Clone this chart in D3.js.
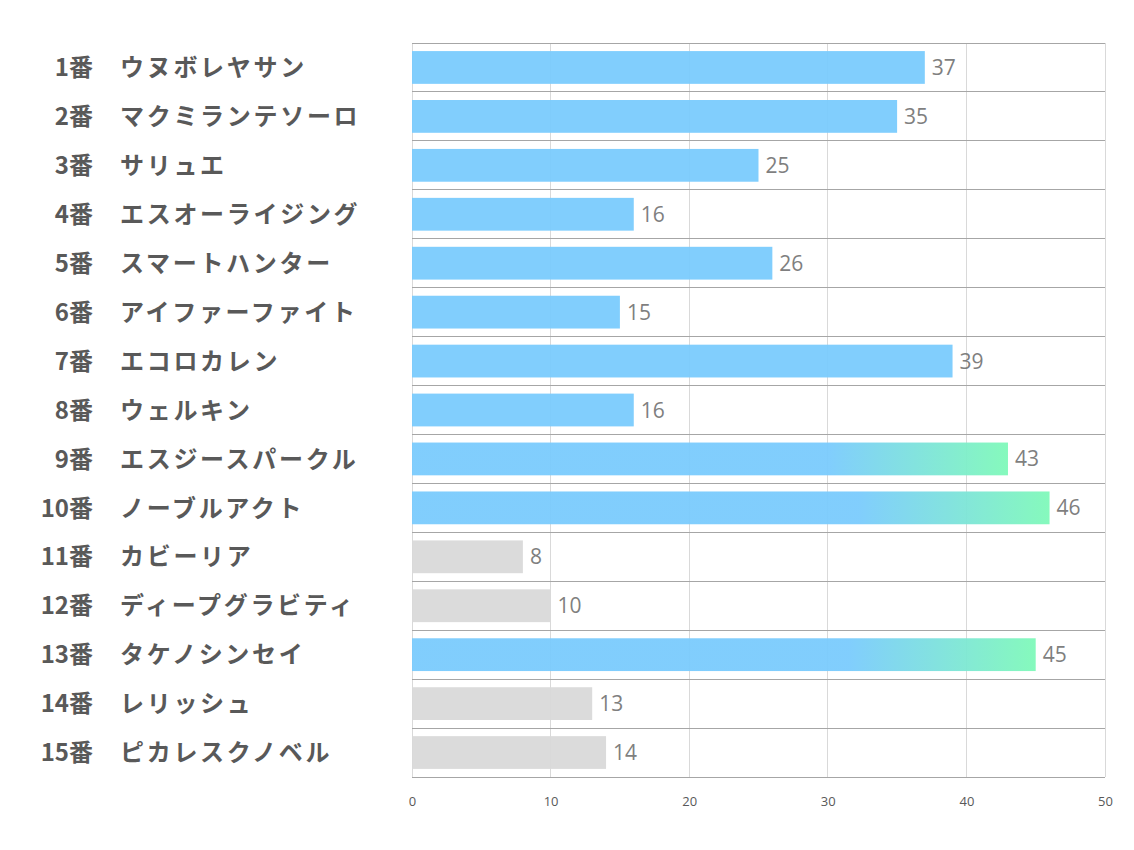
<!DOCTYPE html>
<html><head><meta charset="utf-8">
<script src="https://cdn.jsdelivr.net/npm/d3@7/dist/d3.min.js"></script>
<style>body{margin:0;background:#fff;} svg{display:block;}</style>
</head><body>
<svg id="chart" width="1134" height="850"></svg>
<script>
const numbers = ["1番","2番","3番","4番","5番","6番","7番","8番","9番","10番","11番","12番","13番","14番","15番"];
const names = ["ウヌボレヤサン","マクミランテソーロ","サリュエ","エスオーライジング","スマートハンター","アイファーファイト","エコロカレン","ウェルキン","エスジースパークル","ノーブルアクト","カビーリア","ディープグラビティ","タケノシンセイ","レリッシュ","ピカレスクノベル"];
const values = [37,35,25,16,26,15,39,16,43,46,8,10,45,13,14];
const kinds = ["blue","blue","blue","blue","blue","blue","blue","blue","grad","grad","gray","gray","grad","gray","gray"];
const ticks = [0,10,20,30,40,50];

(function(){
const svg = d3.select("#chart");
const pl = 412, pr = 1105, pt = 43, pb = 777;
const x = d3.scaleLinear().domain([0,50]).range([pl,pr]);
const y = d3.scaleBand().domain(d3.range(values.length)).range([pt,pb]).paddingInner(0.33).paddingOuter(0.165);
const band = (pb-pt)/values.length;

const defs = svg.append("defs");
values.forEach((v,i)=>{
  if(kinds[i]!=="grad") return;
  const g = defs.append("linearGradient").attr("id","g"+i)
    .attr("gradientUnits","userSpaceOnUse")
    .attr("x1",x(0)).attr("x2",x(v)).attr("y1",0).attr("y2",0);
  g.append("stop").attr("offset","0.7").attr("stop-color","#7acbfd");
  g.append("stop").attr("offset","1").attr("stop-color","#7ff9b9");
});

svg.append("g").selectAll("line").data(ticks).join("line")
  .attr("x1",d=>x(d)).attr("x2",d=>x(d)).attr("y1",pt).attr("y2",pb)
  .attr("stroke","#d9d9d9").attr("stroke-width",1).attr("shape-rendering","crispEdges");
svg.append("g").selectAll("line").data(d3.range(values.length+1)).join("line")
  .attr("x1",pl).attr("x2",pr).attr("y1",d=>pt+d*band).attr("y2",d=>pt+d*band)
  .attr("stroke","#a6a6a6").attr("stroke-width",1).attr("shape-rendering","crispEdges");

const colorOf = (k,i)=> k==="blue" ? "#7acbfd" : k==="gray" ? "#d9d9d9" : `url(#g${i})`;
svg.append("g").selectAll("rect").data(values).join("rect")
  .attr("x",x(0)).attr("y",(d,i)=>y(i)).attr("width",d=>x(d)-x(0)).attr("height",y.bandwidth())
  .attr("fill",(d,i)=>colorOf(kinds[i],i)).attr("fill-opacity",0.95);

svg.append("g").selectAll("text").data(values).join("text")
  .attr("x",d=>x(d)+7).attr("y",(d,i)=>y(i)+y.bandwidth()/2).attr("dy","0.36em")
  .attr("font-family","'Open Sans', 'Noto Sans', sans-serif").attr("font-size",21)
  .attr("fill","#7f7f7f").text(d=>d);

const lab = svg.append("g").attr("font-family","'Noto Sans CJK JP', sans-serif").attr("font-weight","bold").attr("font-size",24).attr("fill","#595959");
lab.selectAll("text.num").data(numbers).join("text").attr("class","num")
  .attr("x",93).attr("y",(d,i)=>y(i)+y.bandwidth()/2).attr("dy","0.36em").attr("text-anchor","end").text(d=>d);
lab.selectAll("text.name").data(names).join("text").attr("class","name")
  .attr("x",120).attr("y",(d,i)=>y(i)+y.bandwidth()/2).attr("dy","0.36em").attr("letter-spacing","2.7").text(d=>d);

const ax = svg.append("g").attr("transform",`translate(0,${pb})`)
  .call(d3.axisBottom(x).tickValues(ticks).tickSize(0).tickPadding(20));
ax.select(".domain").remove();
ax.selectAll("text").attr("font-family","'Open Sans', 'Noto Sans', sans-serif").attr("font-size",13).attr("fill","#595959");
})();
</script>
</body></html>
